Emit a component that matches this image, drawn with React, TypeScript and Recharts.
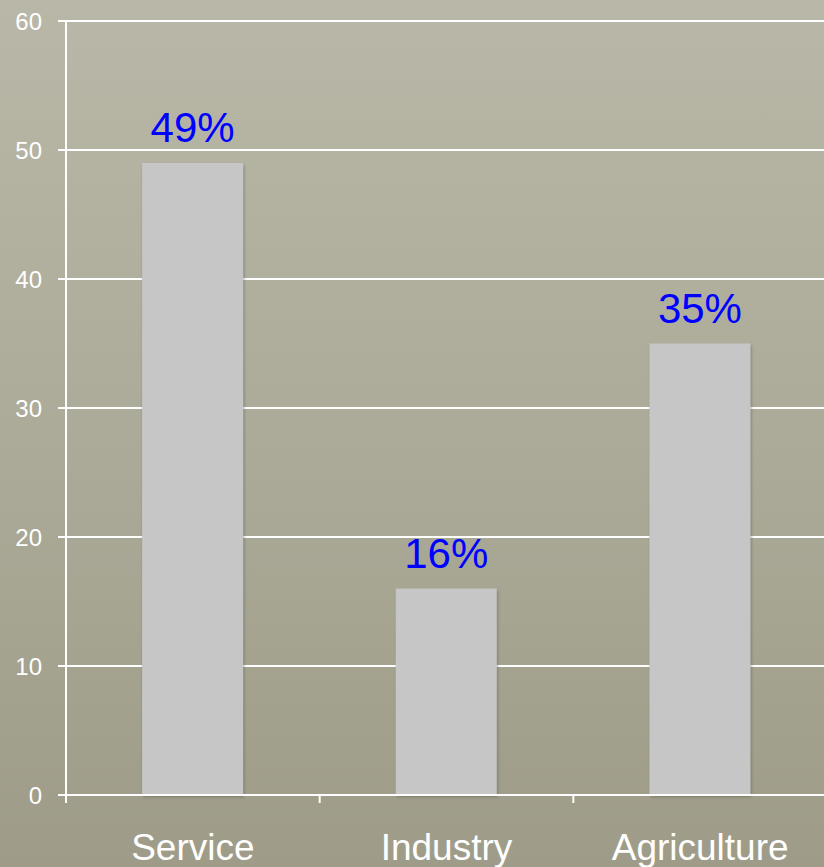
import { BarChart, Bar, XAxis, YAxis, CartesianGrid, LabelList } from 'recharts'

const categories = ['Service', 'Industry', 'Agriculture']
const shares = [49, 16, 35]
const shareLabels = ['49%', '16%', '35%']
const yTicks = [0, 10, 20, 30, 40, 50, 60]
const bandEdges = [0, 1, 2, 3]

const data = categories.map((name, i) => ({ name, slot: i + 0.5, value: shares[i], label: shareLabels[i] }))

const NoTick = () => <g />

const App = () => {
    return (
        <div
            style={{
                position: 'fixed',
                top: 0,
                left: 0,
                width: 824,
                height: 867,
                overflow: 'hidden',
                background: 'linear-gradient(180deg, #b9b8a8 0%, #acab99 50%, #9e9c88 100%)',
                fontFamily: '"Liberation Sans", Arial, sans-serif',
            }}
        >
            <BarChart
                width={830}
                height={867}
                data={data}
                margin={{ top: 21, right: 3, bottom: 0, left: 0 }}
                barCategoryGap="30%"
            >
                <defs>
                    <filter id="barShadow" x="-10%" y="-10%" width="130%" height="130%">
                        <feDropShadow dx="1" dy="2" stdDeviation="1.5" floodColor="#4a4838" floodOpacity="0.45" />
                    </filter>
                </defs>
                <CartesianGrid xAxisId="b" vertical={false} stroke="#ffffff" strokeWidth={2} />
                <XAxis
                    xAxisId="a"
                    dataKey="slot"
                    type="number"
                    domain={[0, 3]}
                    ticks={bandEdges}
                    allowDataOverflow
                    interval={0}
                    height={1}
                    tick={NoTick}
                    tickSize={8}
                    axisLine={{ stroke: '#ffffff', strokeWidth: 2 }}
                    tickLine={{ stroke: '#ffffff', strokeWidth: 2 }}
                />
                <XAxis
                    xAxisId="b"
                    dataKey="name"
                    height={71}
                    axisLine={false}
                    tickLine={false}
                    tickSize={0}
                    tickMargin={38}
                    tick={{ fill: '#ffffff', fontSize: 37 }}
                    interval={0}
                />
                <YAxis
                    width={66}
                    domain={[0, 60]}
                    ticks={yTicks}
                    tickSize={8}
                    tickMargin={16}
                    axisLine={{ stroke: '#ffffff', strokeWidth: 2 }}
                    tickLine={{ stroke: '#ffffff', strokeWidth: 2 }}
                    tick={{ fill: '#ffffff', fontSize: 24 }}
                />
                <Bar
                    xAxisId="b"
                    dataKey="value"
                    fill="#c6c6c6"
                    filter="url(#barShadow)"
                    isAnimationActive={false}
                >
                    <LabelList dataKey="label" position="top" offset={21} fill="#0000ff" fontSize={42} />
                </Bar>
            </BarChart>
        </div>
    )
}

export default App
